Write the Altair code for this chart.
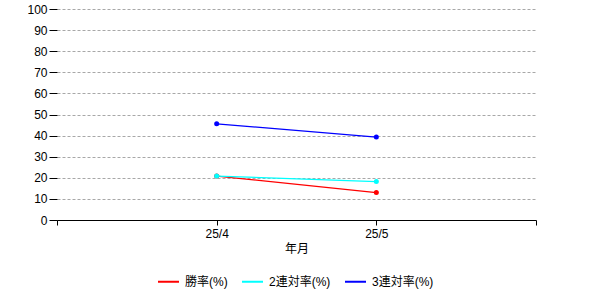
import altair as alt
import pandas as pd

months = ["25/4", "25/5"]
series_names = ["勝率(%)", "2連対率(%)", "3連対率(%)"]
win_rate = [20.8, 13.0]
ren2_rate = [20.8, 18.2]
ren3_rate = [45.6, 39.3]
colors = ["#FF0000", "#00FFFF", "#0000FF"]

rows = []
for name, vals in zip(series_names, [win_rate, ren2_rate, ren3_rate]):
    for i, (m, v) in enumerate(zip(months, vals)):
        rows.append({"month": m, "idx": i + 1, "series": name, "value": v})
df = pd.DataFrame(rows)

label_list = [""] + months + [""]
label_expr = "[" + ",".join("'" + s + "'" for s in label_list) + "][datum.value]"

FONT = "Liberation Sans, Noto Sans CJK JP"

x = alt.X("idx:Q", title="年月",
          scale=alt.Scale(domain=[0, len(months) + 1], nice=False, zero=False),
          axis=alt.Axis(values=list(range(len(months) + 2)), labelExpr=label_expr,
                        grid=False, tickSize=5, tickColor="black", domainColor="black",
                        labelColor="black", titleColor="black", labelFontSize=12,
                        titleFontSize=12, titleFontWeight="normal", labelPadding=3,
                        titlePadding=4, labelFont=FONT, titleFont=FONT))
y = alt.Y("value:Q", title=None,
          scale=alt.Scale(domain=[0, 100], nice=False),
          axis=alt.Axis(values=list(range(0, 101, 10)), domain=False, tickSize=8,
                        tickColor="black", labelColor="black", labelFontSize=12,
                        labelPadding=2, labelFont=FONT, gridDash=[3, 2],
                        gridColor="#a8a8a8", gridWidth=1))
color = alt.Color("series:N", scale=alt.Scale(domain=series_names, range=colors),
                  sort=series_names,
                  legend=alt.Legend(title=None, orient="none", direction="horizontal",
                                    legendX=100, legendY=261, symbolType="stroke",
                                    symbolSize=441, symbolStrokeWidth=2,
                                    labelFontSize=12, labelFont=FONT, labelColor="black",
                                    labelOffset=5, columnPadding=10))

line = alt.Chart(df).mark_line(strokeWidth=1.2).encode(x=x, y=y, color=color, detail="series:N")
pts = alt.Chart(df).mark_point(filled=True, size=25, opacity=1).encode(x=x, y=y, color=color)

chart = alt.layer(line, pts).properties(
    width=479, height=211,
    background="white",
    autosize=alt.AutoSizeParams(type="none"),
    padding={"left": 57, "top": 9, "right": 64, "bottom": 80},
).configure_view(stroke=None)

chart.save("out.html", embed_options={"renderer": "svg", "actions": False})
